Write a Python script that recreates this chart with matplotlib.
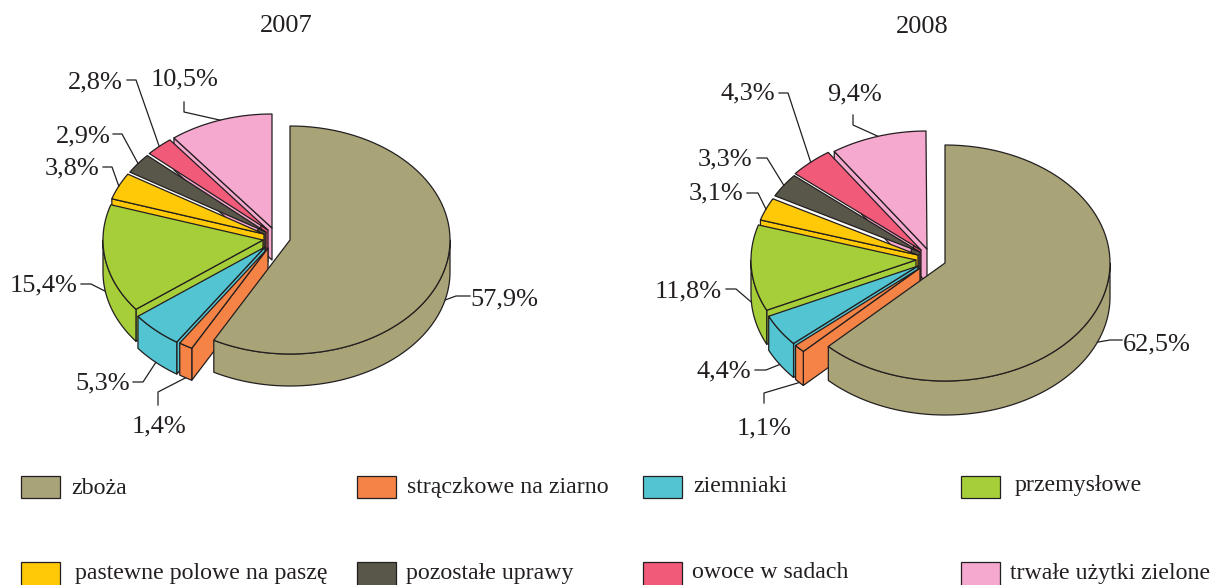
import numpy as np
import matplotlib
matplotlib.use('Agg')
import matplotlib.pyplot as plt
from matplotlib.patches import Polygon, Rectangle

plt.rcParams['font.family'] = ['Liberation Serif', 'DejaVu Serif']

categories = ['zboża', 'strączkowe na ziarno', 'ziemniaki', 'przemysłowe',
              'pastewne polowe na paszę', 'pozostałe uprawy', 'owoce w sadach', 'trwałe użytki zielone']
values_2007 = [57.9, 1.4, 5.3, 15.4, 3.8, 2.9, 2.8, 10.5]
values_2008 = [62.5, 1.1, 4.4, 11.8, 3.1, 3.3, 4.3, 9.4]
colors = ['#A9A477', '#F58345', '#52C4D2', '#A6CE39', '#FFC907', '#59564A', '#F15A78', '#F5A9CE']
line_color = '#231F20'

# where each slice tip ends up after exploding (pixels)
tips_2007 = [(290, 240), (268, 248), (265, 247), (263, 240), (264, 234), (266, 232), (268, 230), (272, 228)]
tips_2008 = [(945, 263), (920, 268), (918, 266), (916, 260), (918, 255), (920, 252), (921, 250), (927, 249)]

# how much of the radial side wall is visible, the two dark/red slices show a white gap instead
wall_part = [0, 1, 1, 1, 1, 0.06, 0.06, 1]

# label centre, then the leader points from label side towards the slice
labels_2007 = [((504, 299), [(470, 296), (456, 296)]),
               ((159, 426), [(158, 405), (158, 392)]),
               ((103, 383), [(133, 382), (143, 382)]),
               ((44, 285), [(81, 284), (91, 284)]),
               ((72, 168), [(103, 167), (112, 167)]),
               ((83, 136), [(113, 134), (122, 134)]),
               ((95, 82), [(127, 80), (136, 80)]),
               ((185, 79), [(184, 102), (184, 112)])]
labels_2008 = [((1157, 344), [(1122, 340), (1110, 340)]),
               ((764, 428), [(764, 403), (764, 393)]),
               ((724, 371), [(755, 370), (766, 370)]),
               ((688, 291), [(726, 289), (736, 289)]),
               ((716, 193), [(747, 193), (758, 193)]),
               ((725, 159), [(757, 158), (767, 158)]),
               ((748, 93), [(779, 93), (788, 93)]),
               ((854, 94), [(853, 115), (853, 125)])]

legend_x = [21, 357, 643, 961]
legend_text_x = [[71, 407, 693, 1015], [75, 406, 692, 1010]]
legend_y = [(476, 498), (562, 586)]
legend_text_y = [[488, 488, 487, 486], [573, 573, 573, 573]]


def rim(tip, rx, ry, a):
    # a is degrees clockwise from 12 o'clock
    a = np.radians(a)
    return tip[0] + rx * np.sin(a), tip[1] - ry * np.cos(a)


def arc(tip, rx, ry, a1, a2):
    t = np.linspace(a1, a2, 80)
    x, y = rim(tip, rx, ry, t)
    return np.column_stack([x, y])


def add_poly(ax, pts, color):
    ax.add_patch(Polygon(pts, closed=True, facecolor=color, edgecolor=line_color, lw=0.9, joinstyle='round'))


def draw_pie(ax, values, tips, labels, rx, ry, depth):
    angles = np.concatenate([[0], np.cumsum(values) * 3.6])
    # back to front: pink round to orange, then the big slice last
    for i in range(len(values) - 1, -1, -1):
        a1, a2 = angles[i], angles[i + 1]
        tip = np.array(tips[i])
        down = np.array([0, depth])
        if wall_part[i] > 0:
            p = tip + (np.array(rim(tip, rx, ry, a1)) - tip) * wall_part[i]
            add_poly(ax, [tip, p, p + down, tip + down], colors[i])
        # outer wall, only the part facing the viewer
        lo, hi = max(a1, 90), min(a2, 270)
        if hi > lo:
            top_edge = arc(tip, rx, ry, lo, hi)
            add_poly(ax, np.vstack([top_edge, (top_edge + down)[::-1]]), colors[i])
        # top face
        add_poly(ax, np.vstack([[tip], arc(tip, rx, ry, a1, a2)]), colors[i])

    for i, (centre, leader) in enumerate(labels):
        mid = (angles[i] + angles[i + 1]) / 2
        x, y = rim(tips[i], rx, ry, mid)
        if 90 < mid < 270:
            y += depth
        pts = leader + [(x, y)]
        ax.plot([p[0] for p in pts], [p[1] for p in pts], color=line_color, lw=0.9)
        txt = f'{values[i]:.1f}%'.replace('.', ',')
        ax.text(centre[0], centre[1], txt, ha='center', va='center', fontsize=19, color=line_color)


fig = plt.figure(figsize=(12.13, 5.85), dpi=100)
ax = fig.add_axes([0, 0, 1, 1])
ax.set_xlim(0, 1213)
ax.set_ylim(585, 0)
ax.axis('off')

draw_pie(ax, values_2007, tips_2007, labels_2007, 160, 114, 32)
draw_pie(ax, values_2008, tips_2008, labels_2008, 165, 118, 34)

ax.text(286, 26, '2007', ha='center', va='center', fontsize=19, color=line_color)
ax.text(922, 27, '2008', ha='center', va='center', fontsize=19, color=line_color)

for i, name in enumerate(categories):
    row, col = i // 4, i % 4
    y0, y1 = legend_y[row]
    ax.add_patch(Rectangle((legend_x[col], y0), 39, y1 - y0, facecolor=colors[i], edgecolor=line_color, lw=0.9))
    ax.text(legend_text_x[row][col], legend_text_y[row][col], name, ha='left', va='center',
            fontsize=17.2, color=line_color)

fig.savefig('out.png', dpi=100)
